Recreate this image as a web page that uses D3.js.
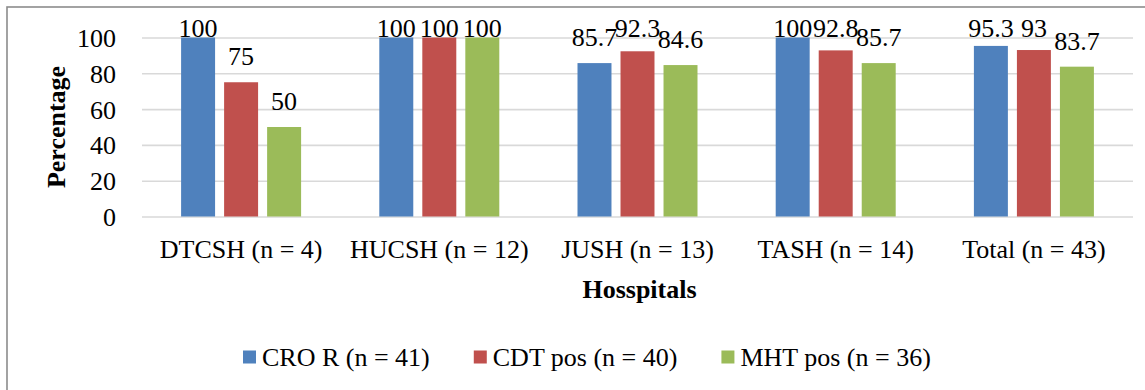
<!DOCTYPE html>
<html>
<head>
<meta charset="utf-8">
<script src="https://cdn.jsdelivr.net/npm/d3@7"></script>
<style>
  html, body { margin: 0; padding: 0; background: #fff; }
  svg text { font-family: "Liberation Serif", "Times New Roman", serif; fill: #000; }
</style>
</head>
<body>
<svg id="chart" width="1145" height="390"></svg>
<script>
const categories = ["DTCSH (n = 4)", "HUCSH (n = 12)", "JUSH (n = 13)", "TASH (n = 14)", "Total (n = 43)"];
const seriesNames = ["CRO R (n = 41)", "CDT pos (n = 40)", "MHT pos (n = 36)"];
const croR   = [100, 100, 85.7, 100, 95.3];
const cdtPos = [75, 100, 92.3, 92.8, 93];
const mhtPos = [50, 100, 84.6, 85.7, 83.7];
const yTicks = [0, 20, 40, 60, 80, 100];
const colors = ["#4f81bd", "#c0504d", "#9bbb59"];

const seriesValues = [croR, cdtPos, mhtPos];
const rows = categories.map((c, i) => ({
  cat: c,
  vals: seriesNames.map((s, j) => ({ series: s, idx: j, value: seriesValues[j][i] }))
}));

const FONT = '"Liberation Serif", "Times New Roman", serif';
const svg = d3.select("#chart");

// outer chart border (extends beyond the visible area on right/bottom)
svg.append("rect")
  .attr("x", 7).attr("y", 7).attr("width", 1150).attr("height", 400)
  .attr("fill", "none").attr("stroke", "#8c8c8c").attr("stroke-width", 1.6);

const plotLeft = 142, plotRight = 1133;
const y = d3.scaleLinear().domain([0, 100]).range([216.5, 37.5]);
const x0 = d3.scaleBand().domain(categories).range([plotLeft, plotRight]).padding(0);
const bw = x0.bandwidth();
const groupW = 120;
const x1 = d3.scaleBand().domain(seriesNames)
  .range([(bw - groupW) / 2, (bw + groupW) / 2])
  .paddingInner(0.21).paddingOuter(0);

// gridlines + tick labels
const yAxis = d3.axisLeft(y).tickValues(yTicks).tickSize(-(plotRight - plotLeft)).tickPadding(0).tickFormat(d3.format("d"));
const gy = svg.append("g").attr("transform", `translate(${plotLeft},0)`).call(yAxis);
gy.select(".domain").remove();
gy.selectAll(".tick line").attr("stroke", "#d9d9d9").attr("stroke-width", 1.6);
gy.selectAll(".tick text")
  .attr("x", -26).attr("dy", null).attr("y", 9)
  .attr("font-size", 26).attr("text-anchor", "end")
  .style("font-family", FONT);

// bars
const groups = svg.append("g").selectAll("g.grp").data(rows).join("g")
  .attr("class", "grp")
  .attr("transform", d => `translate(${x0(d.cat)},0)`);

groups.selectAll("rect").data(d => d.vals).join("rect")
  .attr("x", d => x1(d.series))
  .attr("width", x1.bandwidth())
  .attr("y", d => y(d.value))
  .attr("height", d => y(0) - y(d.value))
  .attr("fill", d => colors[d.idx]);

// data labels
groups.selectAll("text.lbl").data(d => d.vals).join("text")
  .attr("class", "lbl")
  .attr("x", d => x1(d.series) + x1.bandwidth() / 2)
  .attr("y", d => Math.max(y(d.value) - 17, y(100) - 0.5))
  .attr("text-anchor", "middle")
  .attr("font-size", 26)
  .style("font-family", FONT)
  .text(d => String(d.value));

// x axis category labels
const xAxis = d3.axisBottom(x0).tickSize(0).tickPadding(0);
const gx = svg.append("g").attr("transform", `translate(0,${y(0)})`).call(xAxis);
gx.select(".domain").remove();
gx.selectAll(".tick text")
  .attr("y", 41.5).attr("dy", null)
  .attr("font-size", 26)
  .style("font-family", FONT);

// axis titles
svg.append("text")
  .attr("x", (plotLeft + plotRight) / 2 + 2).attr("y", 298)
  .attr("text-anchor", "middle").attr("font-size", 26).attr("font-weight", "bold")
  .style("font-family", FONT)
  .text("Hosspitals");

svg.append("text")
  .attr("transform", "translate(65,127) rotate(-90)")
  .attr("text-anchor", "middle").attr("font-size", 26).attr("font-weight", "bold")
  .style("font-family", FONT)
  .text("Percentage");

// legend
const legend = svg.append("g");
let lx = 243;
seriesNames.forEach((s, i) => {
  legend.append("rect")
    .attr("x", lx).attr("y", 350.5).attr("width", 13).attr("height", 13)
    .attr("fill", colors[i]);
  const t = legend.append("text")
    .attr("x", lx + 19).attr("y", 366)
    .attr("font-size", 26)
    .style("font-family", FONT)
    .text(s);
  lx = lx + 19 + t.node().getComputedTextLength() + 44;
});
</script>
</body>
</html>
